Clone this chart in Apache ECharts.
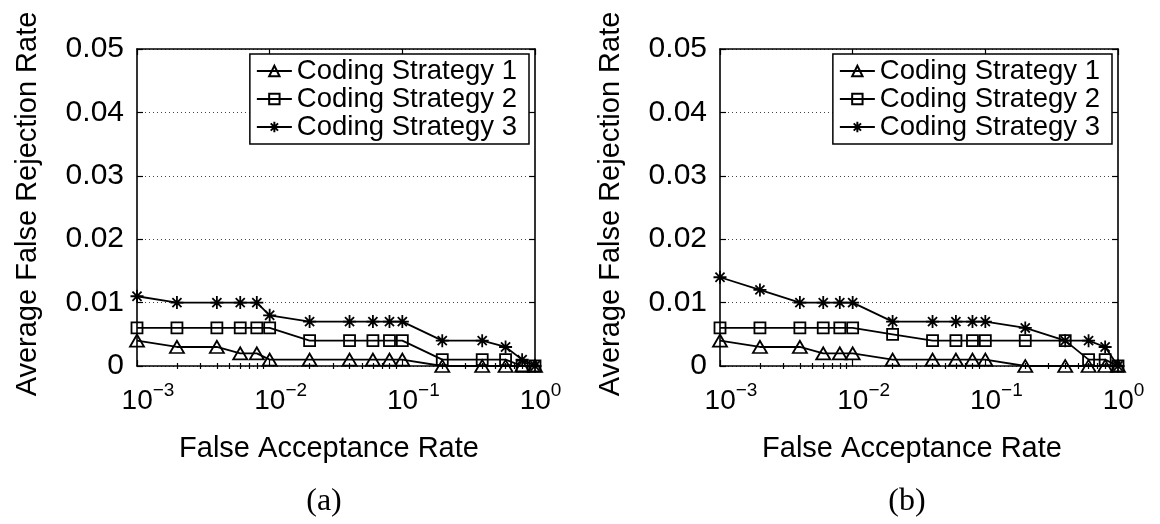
<!DOCTYPE html>
<html><head><meta charset="utf-8">
<script src="https://cdn.jsdelivr.net/npm/echarts@6/dist/echarts.min.js"></script>
<style>html,body{margin:0;padding:0;background:#fff}#c{width:1160px;height:524px}</style>
</head><body><div id="c"></div>
<script>
// ---- data ----
const FAR = [0.001,0.002,0.004,0.006,0.008,0.01,0.02,0.04,0.06,0.08,0.1,0.2,0.4,0.6,0.8,1.0];
const seriesNames = ['Coding Strategy 1','Coding Strategy 2','Coding Strategy 3'];
const a_s1 = [0.004,0.003,0.003,0.002,0.002,0.001,0.001,0.001,0.001,0.001,0.001,0,0,0,0,0];
const a_s2 = [0.006,0.006,0.006,0.006,0.006,0.006,0.004,0.004,0.004,0.004,0.004,0.001,0.001,0.001,0,0];
const a_s3 = [0.011,0.010,0.010,0.010,0.010,0.008,0.007,0.007,0.007,0.007,0.007,0.004,0.004,0.003,0.001,0];
const b_s1 = [0.004,0.003,0.003,0.002,0.002,0.002,0.001,0.001,0.001,0.001,0.001,0,0,0,0,0];
const b_s2 = [0.006,0.006,0.006,0.006,0.006,0.006,0.005,0.004,0.004,0.004,0.004,0.004,0.004,0.001,0.001,0];
const b_s3 = [0.014,0.012,0.010,0.010,0.010,0.010,0.007,0.007,0.007,0.007,0.007,0.006,0.004,0.004,0.003,0];
const minorTickValues = [0.002,0.003,0.004,0.005,0.006,0.007,0.008,0.009,
                         0.02,0.03,0.04,0.05,0.06,0.07,0.08,0.09,
                         0.2,0.3,0.4,0.5,0.6,0.7,0.8,0.9];
const yTicks = ['0','0.01','0.02','0.03','0.04','0.05'];
const panelLabels = ['(a)','(b)'];
const xTitle = 'False Acceptance Rate';
const yTitle = 'Average False Rejection Rate';

// ---- styling ----
const FONT = "'Liberation Sans', Arial, sans-serif";
const BLACK = '#000';
const gridsPos = [{left:137, top:49, width:398, height:317}, {left:720, top:49, width:398, height:317}];

function xLabelFmt(v){
  const e = Math.round(Math.log10(v));
  const s = (e < 0 ? '\u2212' : '') + Math.abs(e);
  return '{' + (e < 0 ? 'pn' : 'pp') + '|}{b|10}{s|' + s + '}';
}
const xRich = {
  b: {fontSize: 28, fontFamily: FONT, color: BLACK, lineHeight: 34, verticalAlign: 'bottom'},
  s: {fontSize: 19, fontFamily: FONT, color: BLACK, lineHeight: 20, verticalAlign: 'top'},
  pn: {width: 22, lineHeight: 34},
  pp: {width: 11, lineHeight: 34}
};

const xAxes = [], yAxes = [], series = [], legends = [], titles = [];
const panelData = [[a_s1,a_s2,a_s3],[b_s1,b_s2,b_s3]];
const symbols = [
  {symbol:'triangle', size:[14,12]},
  {symbol:'rect', size:11},
  {symbol:'path://M0,-10L0,10M-10,0L10,0M-7,-7L7,7M-7,7L7,-7', size:13}
];

gridsPos.forEach((g, gi) => {
  const base = {type:'log', logBase:10, gridIndex:gi, min:0.001, max:1, splitNumber:3,
    splitLine:{show:false}, minorTick:{show:false}, minorSplitLine:{show:false}};
  xAxes.push(Object.assign({}, base, {
    position:'bottom',
    axisLine:{show:true, onZero:false, lineStyle:{color:BLACK, width:1.6}},
    axisTick:{show:true, inside:true, length:6, lineStyle:{color:BLACK, width:1.2}},
    axisLabel:{show:true, margin:15, formatter:xLabelFmt, rich:xRich},
    name:xTitle, nameLocation:'middle', nameGap:68,
    nameTextStyle:{fontSize:29, fontFamily:FONT, color:BLACK, padding:[0,14,0,0]}
  }));
  xAxes.push(Object.assign({}, base, {
    position:'bottom',
    axisLine:{show:false},
    axisTick:{show:true, inside:true, length:3, customValues:minorTickValues, lineStyle:{color:BLACK, width:1.2}},
    axisLabel:{show:false}
  }));
  xAxes.push(Object.assign({}, base, {
    position:'top',
    axisLine:{show:true, onZero:false, lineStyle:{color:BLACK, width:1.6}},
    axisTick:{show:true, inside:true, length:6, lineStyle:{color:BLACK, width:1.2}},
    axisLabel:{show:false}
  }));
  xAxes.push(Object.assign({}, base, {
    position:'top',
    axisLine:{show:false},
    axisTick:{show:true, inside:true, length:3, customValues:minorTickValues, lineStyle:{color:BLACK, width:1.2}},
    axisLabel:{show:false}
  }));
  yAxes.push({
    type:'value', gridIndex:gi, min:0, max:0.05, interval:0.01, position:'left',
    axisLine:{show:true, onZero:false, lineStyle:{color:BLACK, width:1.6}},
    axisTick:{show:true, inside:true, length:6, lineStyle:{color:BLACK, width:1.2}},
    axisLabel:{show:true, margin:13, fontSize:30, fontFamily:FONT, color:BLACK,
      formatter:(v)=>{ const i = Math.round(v/0.01); return yTicks[i]; }},
    splitLine:{show:true, lineStyle:{type:[1,3], color:'#444', width:1.2}},
    name:yTitle, nameLocation:'middle', nameGap:95,
    nameTextStyle:{fontSize:29, fontFamily:FONT, color:BLACK, padding:[0,0,0,7]}
  });
  yAxes.push({
    type:'value', gridIndex:gi, min:0, max:0.05, interval:0.01, position:'right',
    axisLine:{show:true, onZero:false, lineStyle:{color:BLACK, width:1.6}},
    axisTick:{show:true, inside:true, length:6, lineStyle:{color:BLACK, width:1.2}},
    axisLabel:{show:false}, splitLine:{show:false}
  });
  panelData[gi].forEach((vals, si) => {
    series.push({
      type:'line', name:seriesNames[si], xAxisIndex:gi*4, yAxisIndex:gi*2,
      data: FAR.map((x,i)=>[x, vals[i]]),
      symbol: symbols[si].symbol, symbolSize: symbols[si].size,
      showAllSymbol:true, clip:false, animation:false,
      lineStyle:{color:BLACK, width:1.8},
      itemStyle:{color:'rgba(255,255,255,0)', borderColor:BLACK, borderWidth:1.8},
      emphasis:{disabled:true}
    });
  });
  legends.push({
    orient:'vertical', align:'left', top:54, right: 1160 - (g.left + g.width - 6),
    itemWidth:35, itemHeight:13, itemGap:0, padding:[3,12,3,6],
    backgroundColor:'#fff', borderColor:BLACK, borderWidth:1.5, borderRadius:0,
    selectedMode:false, data:seriesNames,
    textStyle:{fontSize:27.5, lineHeight:26, fontFamily:FONT, color:BLACK}
  });
  titles.push({
    text: panelLabels[gi], left: g.left + 187, top: 486, textAlign:'center', padding:0,
    textStyle:{fontFamily:"'Liberation Serif', 'Times New Roman', serif", fontSize:32, fontWeight:'normal', color:BLACK}
  });
});

const chart = echarts.init(document.getElementById('c'), null, {renderer:'canvas'});
chart.setOption({
  animation:false,
  backgroundColor:'#fff',
  title:titles,
  legend:legends,
  grid:gridsPos,
  xAxis:xAxes,
  yAxis:yAxes,
  series:series
});
</script></body></html>
